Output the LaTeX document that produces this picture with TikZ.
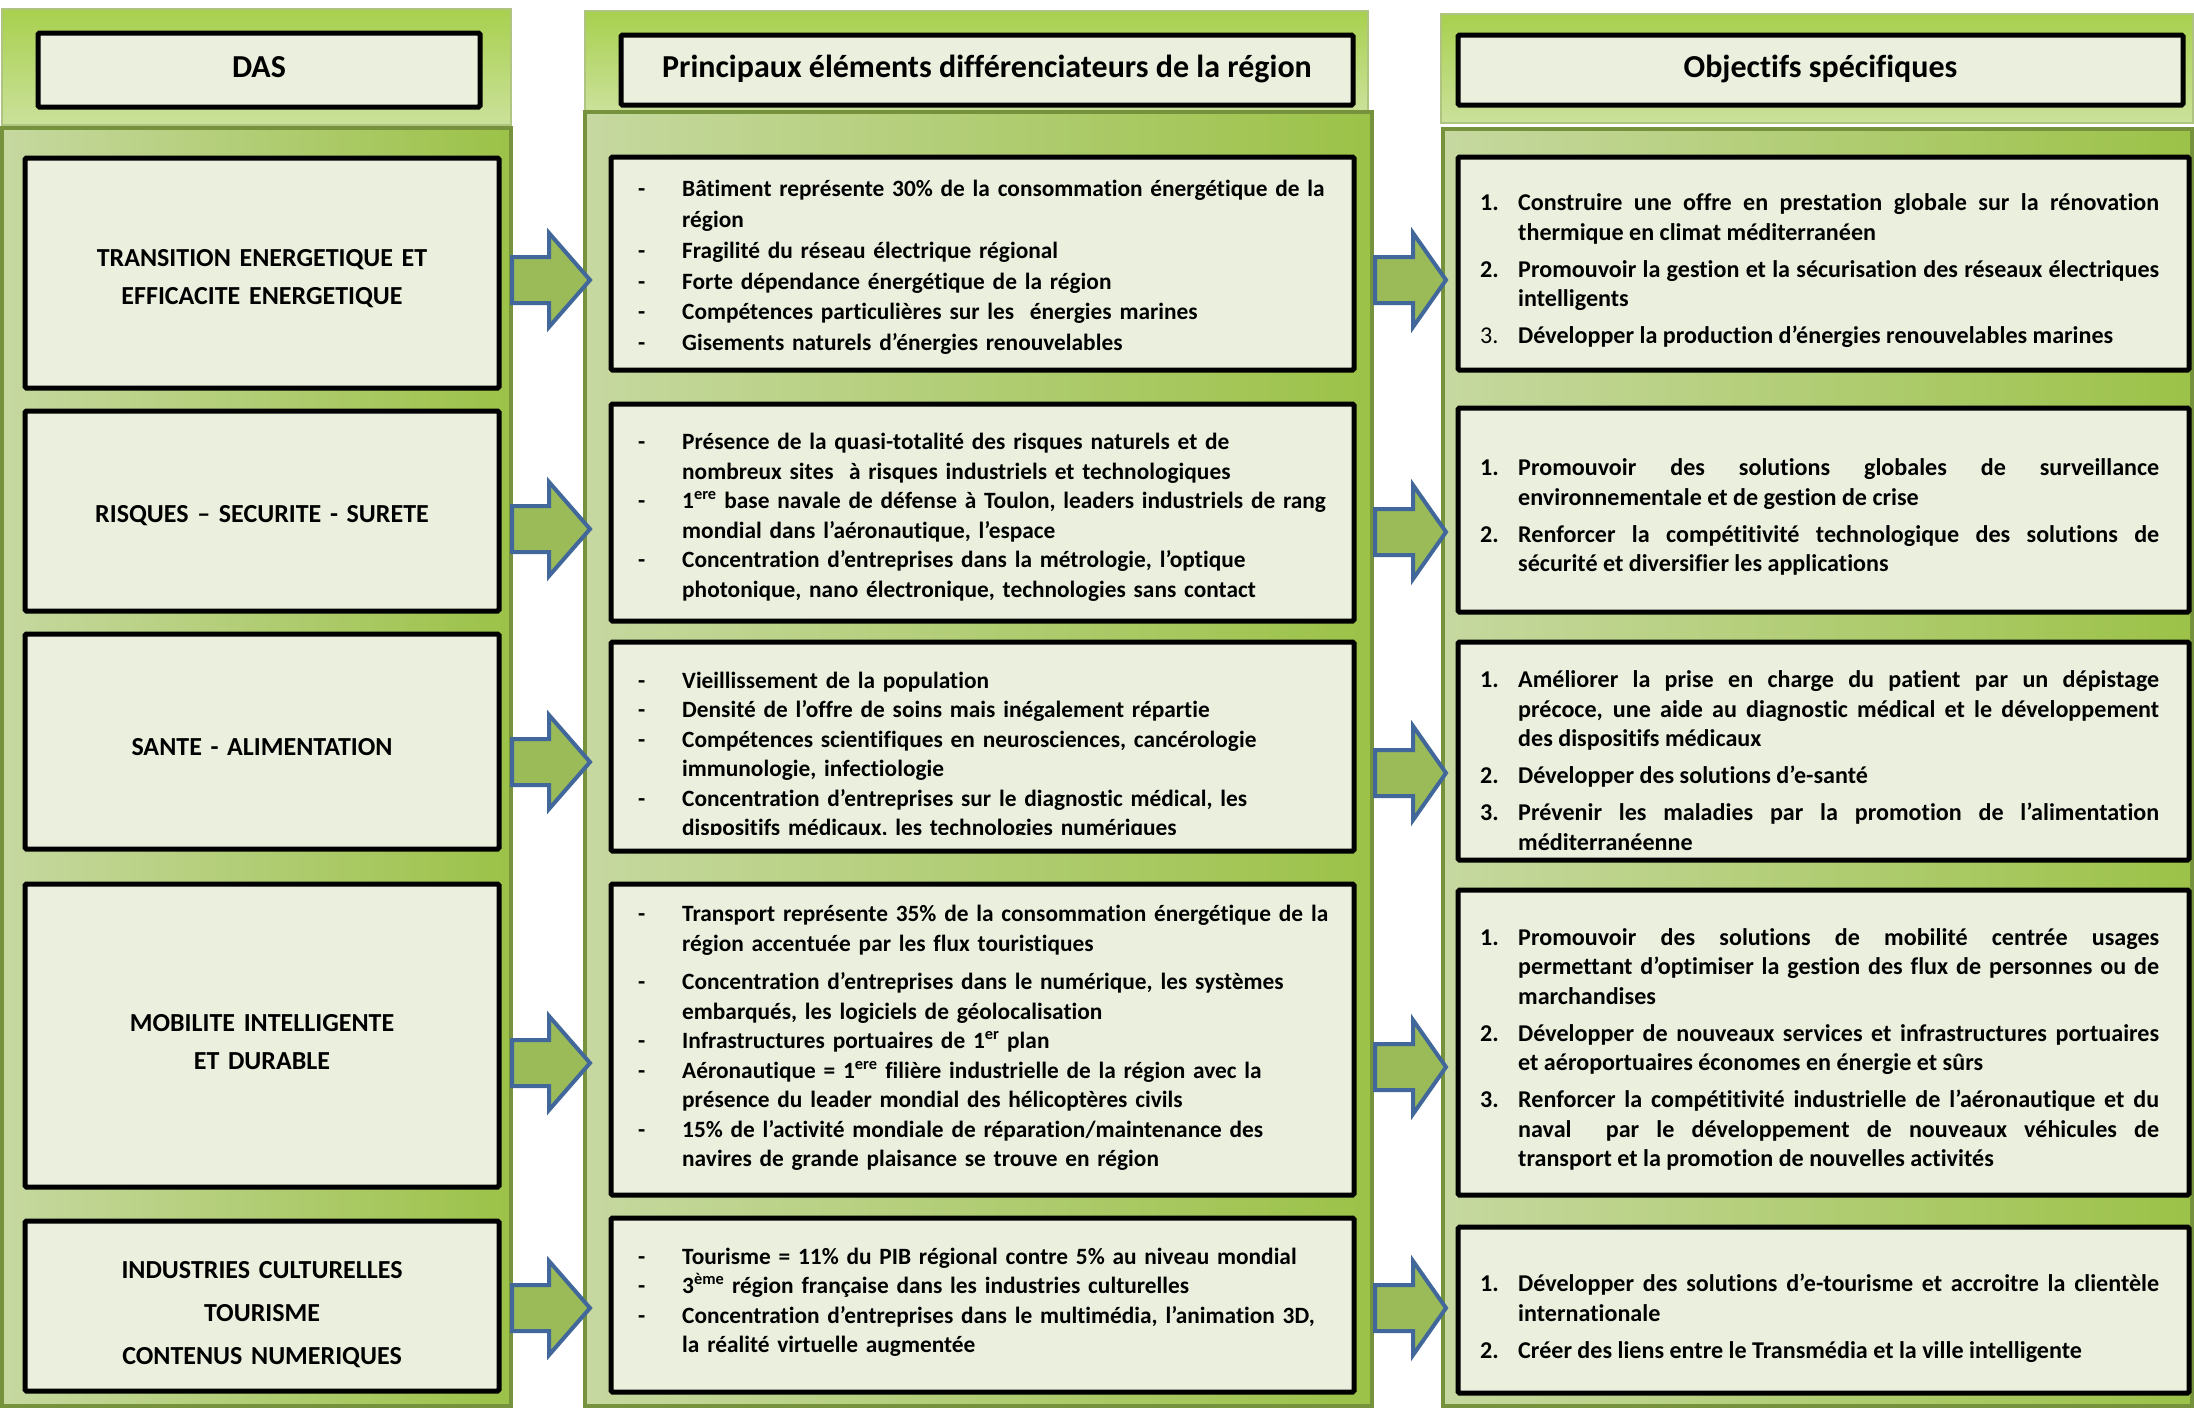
\documentclass[tikz,border=0pt]{standalone}
\usepackage{fontspec}
\setmainfont{Carlito}[Ligatures={NoCommon}]
\usetikzlibrary{fit}
\definecolor{bodyL}{RGB}{198,216,160}
\definecolor{bodyR}{RGB}{156,194,72}
\definecolor{bodyBorder}{RGB}{118,146,60}
\definecolor{hdrTop}{RGB}{168,208,78}
\definecolor{hdrBot}{RGB}{203,225,155}
\definecolor{hdrEdge}{RGB}{176,196,130}
\definecolor{boxFill}{RGB}{235,240,222}
\definecolor{arrFill}{RGB}{155,187,89}
\definecolor{arrLine}{RGB}{65,103,155}
\newcommand\dit[1]{\par\hangindent=44pt\hangafter=1\noindent\makebox[44pt][l]{-}\strut#1\strut\par}
\newcommand\nit[2]{\par\hangindent=38pt\hangafter=1\noindent\makebox[38pt][l]{#1}\strut#2\strut\par}
\newcommand\arrA[1]{\draw[blockarr] (#1) ++(0,-23) -- ++(37,0) -- ++(0,-24) -- ++(41,47) -- ++(-41,47) -- ++(0,-24) -- ++(-37,0) -- cycle;}
\newcommand\arrB[1]{\draw[blockarr] (#1) ++(0,-23) -- ++(38,0) -- ++(0,-24) -- ++(33,47) -- ++(-33,47) -- ++(0,-24) -- ++(-38,0) -- cycle;}
\begin{document}
\begin{tikzpicture}[x=1pt,y=-1pt,
  panel/.style={left color=bodyL,right color=bodyR,draw=bodyBorder,line width=4pt},
  hdrpanel/.style={top color=hdrTop,bottom color=hdrBot,draw=hdrEdge,line width=1.5pt},
  ibox/.style={fill=boxFill,draw=black,line width=5pt,rounded corners=1.5pt,inner sep=0pt},
  blockarr/.style={fill=arrFill,draw=arrLine,line width=4pt,line join=miter,miter limit=10},
  hdrtxt/.style={font=\fontsize{32}{39}\selectfont\bfseries,inner sep=0pt},
  dastxt/.style={font=\fontsize{26}{38}\selectfont\bfseries,align=center,text width=460pt,inner sep=0pt},
  c2txt/.style={anchor=west,inner sep=0pt,text width=720pt,align=left,font=\fontsize{23.35}{29.5}\selectfont\bfseries},
  c3txt/.style={anchor=west,inner sep=0pt,text width=679pt,align=justify,font=\fontsize{24.1}{29.5}\selectfont\bfseries}]
\useasboundingbox[fill=white] (0,0) rectangle (2194,1409);
% column panels
\path[panel] (2,128) rectangle (511,1406);
\path[hdrpanel] (2,9) rectangle (511,125);
\path[hdrpanel] (585,11) rectangle (1368,112);
\path[panel] (585,112) rectangle (1372,1406);
\path[panel] (1443,129) rectangle (2192,1406);
\path[hdrpanel] (1441,14) rectangle (2193,123);
% header boxes
\node[ibox,fit={(38,33) (480,107)}] (h1) {};
\node[ibox,fit={(621,35) (1353,105)}] (h2) {};
\node[ibox,fit={(1458,35) (2183,105)}] (h3) {};
\node[hdrtxt] (h1t) at (h1.center) {\strut DAS};
\node[hdrtxt] (h2t) at (h2.center) {\strut Principaux éléments différenciateurs de la région};
\node[hdrtxt] (h3t) at (h3.center) {\strut Objectifs spécifiques};
% DAS boxes
\node[ibox,fit={(25,158) (499,388)}] (d1) {};
\node[ibox,fit={(25,411) (499,611)}] (d2) {};
\node[ibox,fit={(25,634) (499,849)}] (d3) {};
\node[ibox,fit={(25,884) (499,1187)}] (d4) {};
\node[ibox,fit={(25,1221) (499,1391)}] (d5) {};
% column 2 boxes
\node[ibox,fit={(611,157) (1354,370)}] (e1) {};
\node[ibox,fit={(611,404) (1354,621)}] (e2) {};
\node[ibox,fit={(611,642) (1354,851)}] (e3) {};
\node[ibox,fit={(611,884) (1354,1195)}] (e4) {};
\node[ibox,fit={(611,1218) (1354,1392)}] (e5) {};
% column 3 boxes
\node[ibox,fit={(1458,157) (2189,370)}] (f1) {};
\node[ibox,fit={(1458,408) (2189,612)}] (f2) {};
\node[ibox,fit={(1458,642) (2189,860)}] (f3) {};
\node[ibox,fit={(1458,890) (2189,1195)}] (f4) {};
\node[ibox,fit={(1458,1227) (2189,1393)}] (f5) {};
% DAS texts
\node[dastxt] (d1t) at (262,279) {TRANSITION ENERGETIQUE ET\\EFFICACITE ENERGETIQUE};
\node[dastxt] (d2t) at (262,516) {RISQUES – SECURITE - SURETE};
\node[dastxt] (d3t) at (262,747) {SANTE - ALIMENTATION};
\node[dastxt] (d4t) at (262,1042) {MOBILITE INTELLIGENTE\\ET DURABLE};
\node[dastxt,font=\fontsize{26}{43}\selectfont\bfseries] (d5t) at (262,1315) {INDUSTRIES CULTURELLES\\TOURISME\\CONTENUS NUMERIQUES};
% column 2 texts
\node[c2txt,font=\fontsize{23.35}{30.8}\selectfont\bfseries] (e1t) at (638,263) {%
\dit{Bâtiment représente 30\% de la consommation énergétique de la\newline région}
\dit{Fragilité du réseau électrique régional}
\dit{Forte dépendance énergétique de la région}
\dit{Compétences particulières sur les~ énergies marines}
\dit{Gisements naturels d’énergies renouvelables}};
\node[c2txt] (e2t) at (638,513) {%
\dit{Présence de la quasi-totalité des risques naturels et de\newline nombreux sites~ à risques industriels et technologiques}
\dit{1\textsuperscript{ere} base navale de défense à Toulon, leaders industriels de rang\newline mondial dans l’aéronautique, l’espace}
\dit{Concentration d’entreprises dans la métrologie, l’optique\newline photonique, nano électronique, technologies sans contact}};
\begin{scope}
\clip (611,642) rectangle (1354,834);
\node[c2txt] (e3t) at (638,751.5) {%
\dit{Vieillissement de la population}
\dit{Densité de l’offre de soins mais inégalement répartie}
\dit{Compétences scientifiques en neurosciences, cancérologie\newline immunologie, infectiologie}
\dit{Concentration d’entreprises sur le diagnostic médical, les\newline dispositifs médicaux, les technologies numériques}};
\end{scope}
\node[c2txt] (e4t) at (638,1034) {%
\dit{Transport représente 35\% de la consommation énergétique de la\newline région accentuée par les flux touristiques}
\vskip9pt
\dit{Concentration d’entreprises dans le numérique, les systèmes\newline embarqués, les logiciels de géolocalisation}
\dit{Infrastructures portuaires de 1\textsuperscript{er} plan}
\dit{Aéronautique = 1\textsuperscript{ere} filière industrielle de la région avec la\newline présence du leader mondial des hélicoptères civils}
\dit{15\% de l’activité mondiale de réparation/maintenance des\newline navires de grande plaisance se trouve en région}};
\node[c2txt] (e5t) at (638,1298) {%
\dit{Tourisme = 11\% du PIB régional contre 5\% au niveau mondial}
\dit{3\textsuperscript{ème} région française dans les industries culturelles}
\dit{Concentration d’entreprises dans le multimédia, l’animation 3D,\newline la réalité virtuelle augmentée}};
% column 3 texts
\node[c3txt] (f1t) at (1480,263) {\setlength{\parskip}{7.5pt}%
\nit{1.}{Construire une offre en prestation globale sur la rénovation\linebreak thermique en climat méditerranéen}
\nit{2.}{Promouvoir la gestion et la sécurisation des réseaux électriques\linebreak intelligents}
\nit{\mdseries 3.}{Développer la production d’énergies renouvelables marines}};
\node[c3txt] (f2t) at (1480,509.5) {\setlength{\parskip}{7.5pt}%
\nit{1.}{Promouvoir des solutions globales de surveillance\linebreak environnementale et de gestion de crise}
\nit{2.}{Renforcer la compétitivité technologique des solutions de\linebreak sécurité et diversifier les applications}};
\node[c3txt] (f3t) at (1480,755) {\setlength{\parskip}{7.5pt}%
\nit{1.}{Améliorer la prise en charge du patient par un dépistage\linebreak précoce, une aide au diagnostic médical et le développement\linebreak des dispositifs médicaux}
\nit{2.}{Développer des solutions d’e-santé}
\nit{3.}{Prévenir les maladies par la promotion de l’alimentation\linebreak méditerranéenne}};
\node[c3txt] (f4t) at (1480,1042) {\setlength{\parskip}{7.5pt}%
\nit{1.}{Promouvoir des solutions de mobilité centrée usages\linebreak permettant d’optimiser la gestion des flux de personnes ou de\linebreak marchandises}
\nit{2.}{Développer de nouveaux services et infrastructures portuaires\linebreak et aéroportuaires économes en énergie et sûrs}
\nit{3.}{Renforcer la compétitivité industrielle de l’aéronautique et du\linebreak naval~ par le développement de nouveaux véhicules de\linebreak transport et la promotion de nouvelles activités}};
\node[c3txt] (f5t) at (1480,1311) {\setlength{\parskip}{7.5pt}%
\nit{1.}{Développer des solutions d’e-tourisme et accroitre la clientèle\linebreak internationale}
\nit{2.}{Créer des liens entre le Transmédia et la ville intelligente}};
% arrows
\coordinate (a1) at (512,280);
\coordinate (a2) at (512,529);
\coordinate (a3) at (512,762);
\coordinate (a4) at (512,1063);
\coordinate (a5) at (512,1308);
\coordinate (b1) at (1375,280);
\coordinate (b2) at (1375,532);
\coordinate (b3) at (1375,773);
\coordinate (b4) at (1375,1067);
\coordinate (b5) at (1375,1308);
\arrA{a1}\arrA{a2}\arrA{a3}\arrA{a4}\arrA{a5}
\arrB{b1}\arrB{b2}\arrB{b3}\arrB{b4}\arrB{b5}
\end{tikzpicture}
\end{document}
